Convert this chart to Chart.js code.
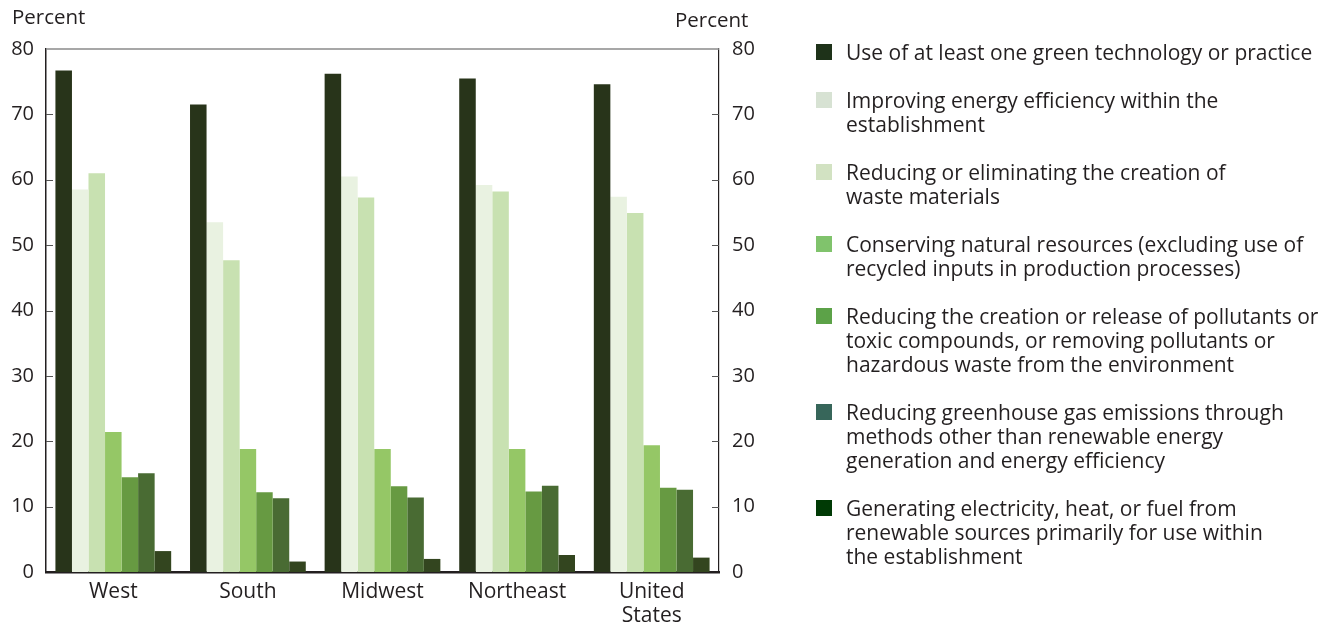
<!DOCTYPE html>
<html>
<head>
<meta charset="utf-8">
<script src="https://cdn.jsdelivr.net/npm/chart.js@4.4.1/dist/chart.umd.min.js"></script>
<style>
body { margin: 0; background: #fff; font-family: "Open Sans", sans-serif; color: #231f20; }
#wrap { position: relative; width: 1342px; height: 626px; }
.ytitle { position: absolute; font-size: 20.5px; line-height: 24px; }
#legend { position: absolute; left: 846px; top: 40px; font-size: 21px; line-height: 24px; }
.item { position: relative; margin-bottom: 24px; white-space: nowrap; }
.sw { position: absolute; left: -30px; top: 4px; width: 16px; height: 16px; }
</style>
</head>
<body>
<div id="wrap">
  <canvas id="chart" width="1342" height="626"></canvas>
  <div class="ytitle" style="left:12px; top:4px;">Percent</div>
  <div class="ytitle" style="left:675px; top:7px;">Percent</div>
  <div id="legend"></div>
</div>
<script>
// regions along the x axis
const categories = ['West', 'South', 'Midwest', 'Northeast', ['United', 'States']];

// percent of establishments, one array per practice
const useAny      = [76.7, 71.5, 76.2, 75.5, 74.6];
const energyEff   = [58.5, 53.5, 60.5, 59.2, 57.4];
const wasteRed    = [61.0, 47.7, 57.3, 58.2, 54.9];
const conserving  = [21.4, 18.8, 18.8, 18.8, 19.4];
const pollutants  = [14.5, 12.2, 13.1, 12.3, 12.9];
const greenhouse  = [15.1, 11.3, 11.4, 13.2, 12.6];
const renewable   = [3.2, 1.6, 2.0, 2.6, 2.2];

const seriesLabels = [
    ['Use of at least one green technology or practice'],
    ['Improving energy efficiency within the', 'establishment'],
    ['Reducing or eliminating the creation of', 'waste materials'],
    ['Conserving natural resources (excluding use of', 'recycled inputs in production processes)'],
    ['Reducing the creation or release of pollutants or', 'toxic compounds, or removing pollutants or', 'hazardous waste from the environment'],
    ['Reducing greenhouse gas emissions through', 'methods other than renewable energy', 'generation and energy efficiency'],
    ['Generating electricity, heat, or fuel from', 'renewable sources primarily for use within', 'the establishment']
];
const yTicks = [0, 10, 20, 30, 40, 50, 60, 70, 80];

const series = [useAny, energyEff, wasteRed, conserving, pollutants, greenhouse, renewable];
const barColors = ['#28341a', '#e9f2e1', '#c8e1b1', '#95c766', '#679a42', '#496b33', '#33451f'];
const legendColors = ['#1e3219', '#d7e2d3', '#d2e2c2', '#80c36c', '#5ca248', '#37665a', '#003a05'];

Chart.defaults.font.family = '"Open Sans", sans-serif';
Chart.defaults.color = '#231f20';

// legend on the right, as in the print figure
var legend = document.getElementById('legend');
seriesLabels.forEach((lines, i) => {
    var div = document.createElement('div');
    div.className = 'item';
    div.innerHTML = '<span class="sw" style="background:' + legendColors[i] + '"></span>' + lines.join('<br>');
    legend.appendChild(div);
});

// top frame line and inward tick marks
const framePlugin = {
    id: 'frame',
    afterDraw(chart) {
        const ctx = chart.ctx;
        const a = chart.chartArea;
        const y = chart.scales.y;
        ctx.save();
        ctx.strokeStyle = '#8a8a8a';
        ctx.lineWidth = 1.5;
        ctx.beginPath();
        ctx.moveTo(a.left, a.top);
        ctx.lineTo(a.right, a.top);
        ctx.stroke();
        ctx.strokeStyle = '#555';
        ctx.lineWidth = 1.2;
        yTicks.forEach(v => {
            if (v == 0 || v == 80) return;
            const py = Math.round(y.getPixelForValue(v)) + 0.5;
            ctx.beginPath();
            ctx.moveTo(a.left, py);
            ctx.lineTo(a.left + 7, py);
            ctx.moveTo(a.right - 7, py);
            ctx.lineTo(a.right, py);
            ctx.stroke();
        });
        ctx.restore();
    }
};

const yOpts = {
    min: 0,
    max: 80,
    grid: { display: false, drawTicks: false, tickLength: 0 },
    ticks: { stepSize: 10, padding: 12, font: { size: 20 }, color: '#231f20' }
};

new Chart(document.getElementById('chart'), {
    type: 'bar',
    data: {
        labels: categories,
        datasets: series.map((d, i) => ({
            label: seriesLabels[i].join(' '),
            data: d,
            backgroundColor: barColors[i],
            borderWidth: 0,
            categoryPercentage: 0.86,
            barPercentage: 1.0
        }))
    },
    options: {
        responsive: false,
        animation: false,
        devicePixelRatio: 1,
        layout: { padding: { left: 0, right: 563, top: 49, bottom: 0 } },
        plugins: { legend: { display: false }, tooltip: { enabled: false } },
        scales: {
            x: {
                grid: { display: false, drawTicks: false, tickLength: 0 },
                border: { display: true, color: '#231f20', width: 2.5 },
                ticks: { padding: 8, maxRotation: 0, autoSkip: false, font: { size: 21, lineHeight: 1.15 }, color: '#231f20' },
                afterFit: s => { s.height = 54; }
            },
            y: Object.assign({}, yOpts, {
                position: 'left',
                border: { display: true, color: '#231f20', width: 1.5 },
                afterFit: s => { s.width = 46; }
            }),
            y2: Object.assign({}, yOpts, {
                position: 'right',
                ticks: { stepSize: 10, padding: 13, font: { size: 20 }, color: '#231f20' },
                border: { display: true, color: '#231f20', width: 1.2 },
                afterFit: s => { s.width = 60; }
            })
        }
    },
    plugins: [framePlugin]
});
</script>
</body>
</html>
